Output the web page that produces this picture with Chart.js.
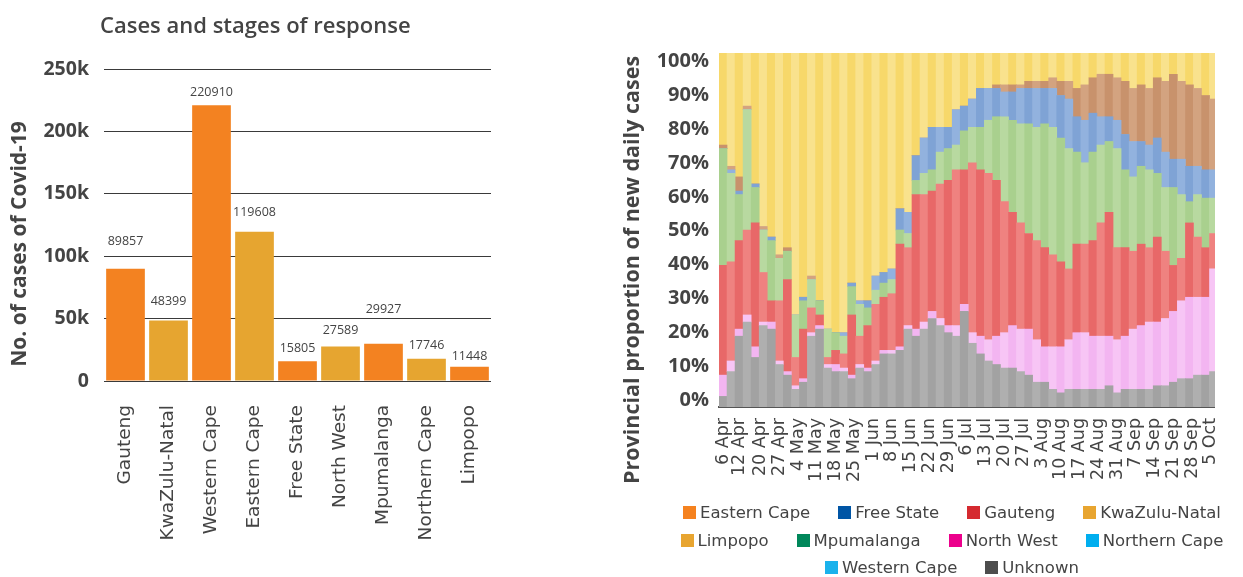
<!DOCTYPE html>
<html><head><meta charset="utf-8">
<script src="https://cdn.jsdelivr.net/npm/chart.js@4"></script>
<style>
html,body{margin:0;padding:0;background:#fff;}
#wrap{position:relative;width:1243px;height:577px;overflow:hidden;background:#fff;}
#left{position:absolute;left:0;top:0;}
#right{position:absolute;left:620px;top:0;}
#legend{position:absolute;left:662px;top:499px;width:580px;display:flex;flex-wrap:wrap;justify-content:center;column-gap:28px;row-gap:0;}
.item{display:flex;align-items:center;height:27.5px;font:16.5px "DejaVu Sans";color:#444;white-space:nowrap;}
.box{width:13px;height:13px;margin-right:4px;flex:none;}
</style></head>
<body>
<div id="wrap">
<canvas id="left" width="620" height="577"></canvas>
<canvas id="right" width="623" height="577"></canvas>
<div id="legend"></div>
</div>
<script>
// ---------- Left chart data ----------
const provinces = ['Gauteng','KwaZulu-Natal','Western Cape','Eastern Cape','Free State','North West','Mpumalanga','Northern Cape','Limpopo'];
const cases = [89857,48399,220910,119608,15805,27589,29927,17746,11448];
const caseTicks = [0,50000,100000,150000,200000,250000];

// ---------- Right chart data ----------
const tickDays = [0,6,14,21,28,35,42,49,56,63,70,77,84,91,98,105,112,119,126,133,140,147,154,161,168,175,182];
const tickLabels = ['6 Apr','12 Apr','20 Apr','27 Apr','4 May','11 May','18 May','25 May','1 Jun','8 Jun','15 Jun','22 Jun','29 Jun','6 Jul','13 Jul','20 Jul','27 Jul','3 Aug','10 Aug','17 Aug','24 Aug','31 Aug','7 Sep','14 Sep','21 Sep','28 Sep','5 Oct'];
const percentTicks = [0,10,20,30,40,50,60,70,80,90,100];
const barDays = [0,3,6,9,12,15,18,21,24,27,30,33,36,39,42,45,48,51,54,57,60,63,66,69,72,75,78,81,84,87,90,93,96,99,102,105,108,111,114,117,120,123,126,129,132,135,138,141,144,147,150,153,156,159,162,165,168,171,174,177,180,183];
const unknownShare = [3,10,20,24,14,23,22,12,9,5, 7,20,22,11,10,10,8,11,10,12, 15,15,16,22,20,22,25,23,21,20, 27,18,15,13,12,11,11,10,9,7, 7,5,4,5,5,5,5,5,6,4, 5,5,5,5,6,6,7,8,8,9, 9,10];
const northWestShare = [6,3,2,2,3,1,2,1,1,1, 1,1,1,1,2,1,1,1,1,1, 1,1,1,1,2,2,2,2,2,3, 2,3,5,6,8,10,12,12,13,12, 10,12,13,14,16,16,15,15,14,15, 15,17,18,19,18,19,20,22,23,22, 22,29];
const gautengShare = [31,28,25,24,35,14,6,17,26,8, 14,7,3,2,4,4,17,8,12,16, 15,16,29,22,38,36,34,38,41,44, 38,48,47,47,44,37,32,30,27,28, 28,26,24,20,25,25,27,32,35,26, 25,22,23,21,24,19,13,12,21,17, 14,10];
const mpumalangaShare = [33,25,13,34,10,12,17,12,8,12, 8,8,4,8,5,5,8,9,5,4, 4,4,4,4,4,6,6,9,9,7, 11,10,12,15,18,24,26,28,31,32, 35,36,35,34,26,23,25,22,20,28, 22,21,22,22,18,18,22,18,6,12, 14,10];
const freeStateShare = [0,1,1,0,1,0,1,0,0,0, 1,0,0,0,0,1,1,1,2,4, 3,3,6,6,7,10,12,7,6,10, 7,8,11,9,8,7,8,10,10,11, 10,11,12,14,10,12,11,8,7,8, 10,10,7,7,10,10,8,10,10,8, 8,8];
const easternCapeShare = [1,1,4,1,0,1,0,1,1,0, 0,1,0,0,0,0,0,0,0,0, 0,0,0,0,0,0,0,0,0,0, 0,0,0,0,1,2,2,1,2,2, 2,3,4,5,8,10,10,12,12,12, 15,15,16,16,17,20,24,22,23,22, 21,20];
const westernCapeShare = [26,32,35,15,37,49,52,57,55,74, 69,63,70,78,79,79,65,70,70,63, 62,61,44,45,29,24,21,21,21,16, 15,13,10,10,9,9,9,9,8,8, 8,7,8,8,10,9,7,6,6,7, 8,10,9,10,7,8,6,8,9,10, 12,13];

const legendNames = ['Eastern Cape','Free State','Gauteng','KwaZulu-Natal','Limpopo','Mpumalanga','North West','Northern Cape','Western Cape','Unknown'];

// ---------- Styles ----------
const legendColors = ['#F5821F','#0055A5','#D52A30','#E8A530','#E8A530','#00875A','#EC008C','#00AEEF','#1AB2EC','#4D4D4D'];
const barFills = ['#F38221','#E6A530'];
const labelGapPx = [27,19,12.5,19,13,16,34,13,10];
const TXT = '#444';

// ---------- Left chart ----------
const leftText = {
  id:'leftText',
  afterDraw(chart){
    const ctx = chart.ctx;
    const meta = chart.getDatasetMeta(0);
    ctx.save();
    ctx.fillStyle = TXT;
    ctx.font = '12.5px "Open Sans"';
    ctx.textAlign = 'center';
    ctx.textBaseline = 'middle';
    meta.data.forEach((bar,i)=>{ ctx.fillText(String(cases[i]), bar.x, bar.y - labelGapPx[i]); });
    ctx.font = '600 22px "Open Sans"';
    ctx.textAlign = 'left';
    ctx.fillText('Cases and stages of response', 100, 27);
    ctx.translate(20, 244);
    ctx.rotate(-Math.PI/2);
    ctx.textAlign = 'center';
    ctx.font = 'bold 21px "Open Sans"';
    ctx.fillText('No. of cases of Covid-19', 0, 0);
    ctx.restore();
  }
};

new Chart(document.getElementById('left'), {
  type:'bar',
  data:{
    labels: provinces,
    datasets:[{
      label:'Cases',
      data: cases,
      backgroundColor: ctx => barFills[ctx.dataIndex % 2],
      borderWidth:0,
      barPercentage:0.9,
      categoryPercentage:1
    }]
  },
  options:{
    responsive:false, animation:false, devicePixelRatio:1,
    layout:{padding:{left:0,right:129,top:69,bottom:0}},
    plugins:{legend:{display:false}, tooltip:{enabled:false}, title:{display:false}},
    scales:{
      x:{
        grid:{display:false, drawTicks:false},
        border:{display:false},
        ticks:{autoSkip:false, minRotation:90, maxRotation:90, padding:24, color:TXT, font:{family:'DejaVu Sans', size:18.5}},
        afterFit: s => { s.height = 196; }
      },
      y:{
        min:0, max:250000,
        afterBuildTicks: s => { s.ticks = caseTicks.map(v => ({value:v})); },
        afterFit: s => { s.width = 104; },
        grid:{color:'#3a3a3a', lineWidth:1, drawTicks:false},
        border:{display:false},
        ticks:{padding:15, color:TXT, font:{family:'Open Sans', size:19.5, weight:'bold'},
          callback: v => v === 0 ? '0' : (v/1000) + 'k'}
      }
    }
  },
  plugins:[leftText]
});

// ---------- Right chart ----------
const layers = [
  {name:'Unknown', values:unknownShare, fills:['#a2a2a2','#afafaf']},
  {name:'North West', values:northWestShare, fills:['#f3b5f1','#f7c5f5']},
  {name:'Gauteng', values:gautengShare, fills:['#e86868','#ef8280']},
  {name:'Mpumalanga', values:mpumalangaShare, fills:['#a9d08e','#b8d9a0']},
  {name:'Free State', values:freeStateShare, fills:['#7fa3d5','#92b2de']},
  {name:'Eastern Cape', values:easternCapeShare, fills:['#c8926c','#d3a380']},
  {name:'Western Cape', values:westernCapeShare, fills:['#f7d86a','#f9e28d']}
];

const rightText = {
  id:'rightText',
  afterDraw(chart){
    const ctx = chart.ctx;
    ctx.save();
    ctx.fillStyle = TXT;
    ctx.translate(13, 270);
    ctx.rotate(-Math.PI/2);
    ctx.textAlign = 'center';
    ctx.textBaseline = 'middle';
    ctx.font = 'bold 21.5px "Open Sans"';
    ctx.fillText('Provincial proportion of new daily cases', 0, 0);
    ctx.restore();
  }
};

new Chart(document.getElementById('right'), {
  type:'bar',
  data:{
    datasets: layers.map(L => ({
      label: L.name,
      data: L.values.map((v,i) => ({x: barDays[i], y: v})),
      backgroundColor: ctx => L.fills[ctx.dataIndex % 2],
      borderWidth:0,
      barPercentage:1,
      categoryPercentage:1,
      yAxisID:'y'
    }))
  },
  options:{
    responsive:false, animation:false, devicePixelRatio:1,
    layout:{padding:{left:0,right:15,top:53,bottom:0}},
    plugins:{legend:{display:false}, tooltip:{enabled:false}},
    scales:{
      x:{
        type:'linear', stacked:true, min:-1.5, max:183.5, offset:false,
        afterBuildTicks: s => { s.ticks = tickDays.map(v => ({value:v})); },
        afterFit: s => { s.height = 170; },
        grid:{display:false, drawTicks:false},
        border:{display:true, color:'#555', width:2},
        ticks:{autoSkip:false, minRotation:90, maxRotation:90, padding:11, color:TXT,
          font:{family:'DejaVu Sans', size:17.5},
          callback: v => { const k = tickDays.indexOf(v); return k >= 0 ? tickLabels[k] : ''; }}
      },
      y:{
        stacked:true, min:0, max:100, display:false
      },
      yPct:{
        type:'linear', position:'left', min:-2.07, max:102.5,
        afterBuildTicks: s => { s.ticks = percentTicks.map(v => ({value:v})); },
        afterFit: s => { s.width = 99; },
        grid:{display:false, drawTicks:false},
        border:{display:false},
        ticks:{padding:10, color:TXT, font:{family:'Open Sans', size:20, weight:'bold'}, callback: v => v + '%'}
      }
    }
  },
  plugins:[rightText]
});

// ---------- Legend ----------
const legendEl = document.getElementById('legend');
legendNames.forEach((n,i) => {
  const it = document.createElement('div'); it.className = 'item';
  const b = document.createElement('span'); b.className = 'box'; b.style.background = legendColors[i];
  const t = document.createElement('span'); t.textContent = n;
  it.appendChild(b); it.appendChild(t); legendEl.appendChild(it);
});
</script>
</body></html>
